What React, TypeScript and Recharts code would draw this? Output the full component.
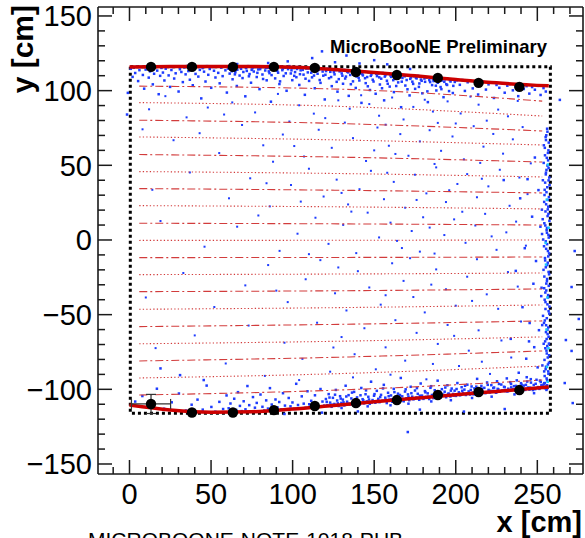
import React from "react";
import { ComposedChart, XAxis, YAxis, Line, Scatter, ErrorBar, ReferenceArea } from "recharts";

const X_DOMAIN: [number, number] = [-19.3, 278];
const Y_DOMAIN: [number, number] = [-156.7, 156];

const xLabelTicks = [0, 50, 100, 150, 200, 250];
const xTicks = [-10, 0, 10, 20, 30, 40, 50, 60, 70, 80, 90, 100, 110, 120, 130, 140, 150, 160, 170, 180, 190, 200, 210, 220, 230, 240, 250, 260, 270];
const yLabelTicks = [-150, -100, -50, 0, 50, 100, 150];
const yTicks = [-150, -140, -130, -120, -110, -100, -90, -80, -70, -60, -50, -40, -30, -20, -10, 0, 10, 20, 30, 40, 50, 60, 70, 80, 90, 100, 110, 120, 130, 140, 150];

// fitted boundary curves
const fitX = [0, 25, 50, 75, 100, 125, 150, 175, 200, 225, 257];
const topFit = [115.9, 116.1, 116.2, 116.1, 115.6, 114.2, 112.2, 109.9, 107.5, 105.2, 103.2];
const bottomFit = [-110.5, -113.8, -115.3, -115.0, -113.2, -110.8, -108.4, -106.0, -103.6, -101.4, -98.5];

// measured edge points
const binX = [13.2, 38.3, 63.4, 88.5, 113.6, 138.8, 163.9, 189, 214, 239];
const topEdge = [115.9, 115.9, 115.9, 115.9, 115.2, 112.5, 110.5, 108.5, 105.2, 102.5];
const bottomEdge = [-109.8, -115.5, -115.5, -113.9, -111.2, -109.2, -107.2, -103.8, -101.8, -100.5];
const bottomErrX = [12, 0, 0, 0, 0, 0, 0, 0, 0, 0];
const bottomErrY = [6.4, 0, 0, 0, 0, 0, 0, 0, 0, 0];

// corrected y-lines (top to bottom)
const guideX = [6, 128, 253];
const guideLeft = [103, 92, 80.2, 69, 57.2, 45.8, 34.4, 23, 11.2, -0.3, -11.8, -23.2, -34.6, -46.4, -58, -69.5, -81, -92.4, -103.8];
const guideMid = [101, 89.5, 78, 67, 55.5, 44.5, 33.3, 22.2, 10.8, -0.2, -11.7, -22.8, -34, -45.3, -56.5, -67.8, -78.5, -89.5, -100.5];
const guideRight = [93, 83, 73, 63.6, 52.2, 42.2, 31.5, 20.8, 10, 0, -11.4, -22.1, -32.8, -43.5, -54.2, -64.9, -74.3, -84.4, -93.8];

// track end points
const topBand = [
  [0.8,114.6],[1.9,109.2],[2.7,115.3],[3.5,111.8],[4.6,116.2],[5.3,106.4],[6.1,113.7],[7.4,115.8],[8.2,110.5],[9.0,101.3],[9.9,114.1],[10.7,116.4],[11.8,108.7],[12.6,112.9],[13.5,115.6],[14.3,104.2],[15.1,111.3],[16.2,116.1],[17.0,113.4],[17.9,97.6],[18.8,109.9],[19.6,115.2],[20.5,112.1],[21.4,106.8],[22.2,114.7],[23.1,116.3],[24.0,110.2],[24.9,102.5],[25.7,113.8],[26.6,115.9],[27.4,108.1],[28.3,111.6],[29.2,116.0],[30.1,99.4],[30.9,114.3],[31.8,112.5],[32.7,105.7],[33.5,115.5],[34.4,110.9],[35.3,116.5],[36.1,113.1],[37.0,107.3],[37.9,114.9],[38.8,103.6],[39.6,115.7],[40.5,111.2],[41.4,116.2],[42.2,109.4],[43.1,113.9],[44.0,94.8],[44.8,115.1],[45.7,112.7],[46.6,106.1],[47.5,116.4],[48.3,110.6],[49.2,114.5],[50.1,101.9],[51.0,115.8],[51.8,113.3],[52.7,108.8],[53.6,116.1],[54.4,111.9],[55.3,104.9],[56.2,115.4],[57.1,109.7],[57.9,116.3],[58.8,113.6],[59.7,98.7],[60.5,114.8],[61.4,111.4],[62.3,116.0],[63.2,107.6],[64.0,115.3],[64.9,112.3],[65.8,103.1],[66.6,116.2],[67.5,110.1],[68.4,114.6],[69.3,108.4],[70.1,115.9],[71.0,96.2],[71.9,113.2],[72.7,116.4],[73.6,111.1],[74.5,105.3],[75.4,115.0],[76.2,112.8],[77.1,116.1],[78.0,109.1],[78.9,114.2],[79.7,101.0],[80.6,115.6],[81.5,110.8],[82.3,116.3],[83.2,113.5],[84.1,106.9],[85.0,115.2],[85.8,111.7],[86.7,92.6],[87.6,116.0],[88.4,114.0],[89.3,108.2],[90.2,115.7],[91.1,112.0],[91.9,104.4],[92.8,116.2],[93.7,113.7],[94.5,109.8],[95.4,115.4],[96.3,99.9],[97.2,114.4],[98.0,116.4],[98.9,111.5],[99.8,107.0],
  [100.6,115.1],[101.5,112.4],[102.3,109.0],[103.2,115.8],[104.1,103.8],[104.9,113.6],[105.8,115.3],[106.7,110.7],[107.5,97.2],[108.4,114.8],[109.3,112.2],[110.1,106.5],[111.0,115.4],[111.9,108.9],[112.7,114.1],[113.6,101.6],[114.5,115.0],[115.3,111.3],[116.2,113.9],[117.1,105.2],[117.9,114.6],[118.8,110.0],[119.7,94.1],[120.5,113.1],[121.4,114.7],[122.3,108.3],[123.1,112.6],[124.0,103.0],[124.9,114.2],[125.7,110.9],[126.6,113.8],[127.5,99.3],[128.3,107.7],[129.2,113.3],[130.1,111.5],[130.9,104.6],[131.8,113.9],[132.7,109.4],[133.5,112.7],[134.4,96.5],[135.3,110.5],[136.1,113.4],[137.0,106.2],[137.9,112.0],[138.7,101.8],[139.6,112.9],[140.5,108.6],[141.3,111.6],[142.2,91.8],[143.1,110.2],[143.9,112.8],[144.8,105.0],[145.7,109.1],[146.5,112.3],[147.4,100.4],[148.3,110.8],[149.1,107.3],[150.0,112.0],[150.9,97.9],[151.7,109.7],[152.6,111.4],[153.5,104.1],[154.3,108.0],[155.2,111.8],[156.1,93.5],[156.9,110.3],[157.8,106.6],[158.7,111.2],[159.5,102.7],[160.4,109.2],[161.3,110.9],[162.1,99.0],[163.0,107.9],[163.9,110.6],[164.7,105.5],[165.6,109.8],[166.5,88.9],[167.3,108.5],[168.2,110.4],[169.1,103.4],[169.9,107.1],[170.8,110.1],[171.7,96.8],[172.5,108.8],[173.4,106.0],[174.3,109.6],[175.1,101.2],[176.0,108.2],[176.9,109.9],[177.7,104.8],[178.6,107.4],[179.5,98.2],[180.3,109.3],[181.2,105.9],[182.1,108.7],[182.9,92.3],[183.8,107.0],[184.7,108.9],[185.5,103.7],[186.4,106.4],[187.3,108.4],[188.1,100.1],[189.0,105.3],[189.9,108.0],[190.7,102.4],[191.6,106.8],[192.5,95.6],[193.3,107.6],[194.2,104.3],[195.1,107.9],[195.9,99.7],[196.8,106.1],[197.7,107.4],[198.5,103.2],[199.4,105.8],
  [200.8,106.9],[202.5,103.9],[204.1,107.1],[205.6,99.8],[207.3,105.6],[208.9,106.7],[210.4,101.5],[212.0,105.0],[213.7,97.4],[215.2,104.6],[216.8,106.0],[218.5,100.7],[220.1,104.2],[221.6,105.5],[223.4,95.1],[225.0,103.8],[226.7,101.9],[228.3,104.9],[230.0,98.6],[231.6,103.3],[233.2,104.4],[235.0,100.2],[236.6,102.8],[238.3,96.3],[240.0,103.6],[241.7,101.1],[243.4,103.0],[245.1,98.0],[246.8,102.4],[248.5,100.6],[250.3,103.2],[252.0,97.1],[253.8,101.7],[255.2,99.4],
  [85,118.5],[97,119.6],[112,121.8],[118,126.3],[126,119.0],[133,123.5],[141,118.2],[150,120.4],[158,117.6],[66,117.8],[40,117.2],[172,114.5],
  [60.9,115.5],[62.8,113.0],[64.6,110.9],[66.1,114.0],[67.9,116.0],[69.8,112.5],[71.5,115.1],[73.2,109.6],[74.9,113.9],[76.7,115.7],[78.4,111.9],[80.1,114.4],[81.9,107.8],[83.6,115.3],[85.4,112.9],[87.1,110.4],[88.8,115.8],[90.6,113.3],[92.3,106.2],[94.0,114.7],[95.8,111.6],[97.5,115.5],[99.3,113.6],[101.0,109.9],[102.7,114.5],[104.5,111.0],[106.2,113.9],[107.9,108.0],[109.7,114.9],[111.4,112.0],[113.1,110.1],[114.9,113.5],[116.6,107.1],[118.4,112.8],[120.1,110.6],[121.8,114.3],[123.6,109.1],[125.3,112.4],[127.0,105.9],[128.8,112.9],[130.5,110.0],[132.2,108.1],[134.0,112.2],[135.7,104.3],[137.4,111.3],[139.2,109.5],[140.9,106.8],[142.7,111.0],[144.4,108.3],[146.1,102.9],[147.9,109.9],[149.6,106.1],[151.3,111.3],[153.1,108.9],[154.8,101.6],[156.5,109.4],[158.3,104.6],[160.0,110.1],[161.7,107.0],[163.5,103.1],[165.2,108.7],[166.9,106.0],[168.7,109.6],[170.4,100.9],[172.1,107.9],[173.9,104.5],[175.6,108.6],[177.4,102.5],[179.1,106.6],[180.8,108.1],[182.6,99.5],[184.3,105.7],[186.0,107.6],[187.8,103.3],[189.5,106.9],[191.2,101.0],[193.0,105.9],[194.7,103.8],[196.4,107.0],[198.2,98.4],
];

const bottomBand = [
  [3.5,-108.2],[7.9,-104.5],[12.4,-111.9],[16.8,-99.6],[21.2,-113.0],[25.9,-108.7],[30.3,-102.8],[34.6,-114.2],[38.1,-110.3],[41.7,-106.9],[44.9,-113.6],[47.3,-97.5],[50.2,-111.8],[52.6,-115.0],[55.1,-108.4],[57.4,-113.2],[59.5,-104.1],[31.0,-90.5],[19.0,-86.0],[45.5,-93.8],
  [60.8,-112.7],[61.9,-109.5],[63.1,-115.2],[64.2,-106.3],[65.4,-113.8],[66.5,-101.9],[67.7,-111.1],[68.8,-114.6],[70.0,-108.0],[71.1,-113.4],[72.3,-97.8],[73.4,-110.6],[74.6,-114.9],[75.7,-105.2],[76.9,-112.3],[78.0,-109.1],[79.2,-115.0],[80.3,-103.5],[81.5,-111.7],[82.6,-114.2],[83.8,-107.4],[84.9,-112.9],[86.1,-99.2],[87.2,-110.2],[88.4,-114.0],[89.5,-106.8],[90.7,-112.1],[91.8,-108.5],[93.0,-113.5],[94.1,-102.6],[95.3,-110.9],[96.4,-113.7],[97.6,-105.8],[98.7,-111.4],[99.9,-108.8],[101.0,-113.1],[102.2,-96.3],[103.3,-110.5],[104.5,-112.8],[105.6,-104.7],[106.8,-109.6],[107.9,-112.4],[109.1,-101.3],[110.2,-110.0],[111.4,-107.7],[112.5,-112.0],[113.7,-104.0],[114.8,-109.3],[116.0,-111.6],[117.1,-99.8],[118.3,-108.2],[119.4,-110.9],
  [120.4,-106.5],[121.3,-110.6],[122.1,-103.2],[123.0,-108.9],[123.9,-111.7],[124.7,-105.7],[125.6,-109.8],[126.5,-100.4],[127.3,-107.5],[128.2,-111.2],[129.1,-104.6],[129.9,-109.1],[130.8,-106.9],[131.7,-110.8],[132.5,-97.6],[133.4,-108.3],[134.3,-103.9],[135.1,-110.2],[136.0,-106.1],[136.9,-108.8],[137.7,-101.7],[138.6,-109.9],[139.5,-105.4],[140.3,-107.9],[141.2,-110.1],[142.1,-99.1],[142.9,-106.6],[143.8,-109.4],[144.7,-103.3],[145.5,-108.1],[146.4,-105.0],[147.3,-109.7],[148.1,-94.9],[149.0,-107.2],[149.9,-104.3],[150.7,-109.0],[151.6,-101.0],[152.5,-106.4],[153.3,-108.6],[154.2,-103.7],[155.1,-107.6],[155.9,-97.0],[156.8,-105.6],[157.7,-109.2],[158.5,-102.3],[159.4,-106.9],[160.3,-104.1],[161.1,-108.3],[162.0,-99.7],[162.9,-105.2],[163.7,-107.8],[164.6,-102.9],[165.5,-106.3],[166.3,-92.4],[167.2,-104.7],[168.1,-108.0],[168.9,-101.5],[169.8,-106.0],[170.7,-103.4],[171.5,-107.3],[172.4,-98.3],[173.3,-104.9],[174.1,-106.7],[175.0,-100.8],[175.9,-105.5],[176.7,-103.0],[177.6,-107.0],[178.5,-96.1],[179.3,-104.2],[180.2,-106.4],[181.1,-101.2],[181.9,-105.1],[182.8,-102.7],[183.7,-106.5],[184.5,-99.0],[185.4,-103.8],[186.3,-105.9],[187.1,-100.6],[188.0,-104.5],[188.9,-94.2],[189.7,-102.4],[190.6,-105.6],[191.5,-99.9],[192.3,-103.5],[193.2,-101.6],[194.1,-105.3],[194.9,-97.3],[195.8,-102.9],[196.7,-104.8],[197.5,-99.5],[198.4,-103.1],[199.3,-100.9],[200.1,-104.4],[201.0,-95.8],[201.9,-102.0],[202.7,-104.0],[203.6,-98.6],[204.5,-102.6],[205.3,-100.2],[206.2,-103.8],[207.1,-96.9],[207.9,-101.4],[208.8,-103.5],[209.7,-98.1],[210.5,-102.2],[211.4,-99.4],[212.3,-103.2],[213.1,-93.0],[214.0,-100.8],[214.9,-102.9],[215.7,-97.7],[216.6,-101.8],[217.5,-99.0],[218.3,-102.5],[219.2,-95.4],[220.1,-100.4],[220.9,-102.1],[221.8,-97.2],[222.7,-101.3],[223.5,-98.8],[224.4,-101.9],[225.3,-94.6],[226.1,-100.0],[227.0,-101.6],[227.9,-96.8],[228.7,-100.7],[229.6,-98.3],[230.5,-101.2],[231.3,-92.7],[232.2,-99.6],[233.1,-101.0],[233.9,-96.4],[234.8,-100.3],[235.7,-97.9],[236.5,-100.9],[237.4,-94.0],[238.3,-99.2],[239.1,-100.6],[240.0,-95.9],[240.9,-99.8],[241.7,-97.5],[242.6,-100.4],[243.5,-91.9],[244.3,-98.8],[245.2,-100.2],[246.1,-95.5],[246.9,-99.4],[247.8,-97.1],[248.7,-99.9],[249.5,-93.6],[250.4,-98.5],[251.3,-99.7],[252.1,-95.1],[253.0,-98.9],[253.9,-96.7],[254.7,-99.3],[255.6,-97.8],
  [130,-112.5],[146,-111.4],[160,-110.7],[171,-109.6],[185,-108.1],[197,-107.3],[210,-105.8],[222,-104.9],[236,-103.4],[248,-102.6],[140,-114.8],[178,-113.6],[205,-114.9],[230,-113.2],[118,-115.6],[95,-116.5],[170.6,-128.6],
  [120.9,-108.4],[122.6,-105.5],[124.3,-110.3],[126.0,-103.6],[127.7,-109.4],[129.5,-106.2],[131.2,-108.7],[132.9,-104.8],[134.6,-109.6],[136.4,-102.2],[138.1,-107.6],[139.8,-109.1],[141.6,-104.0],[143.3,-107.3],[145.0,-100.7],[146.8,-106.8],[148.5,-108.8],[150.2,-103.2],[152.0,-107.9],[153.7,-105.2],[155.4,-99.4],[157.2,-107.1],[158.9,-104.6],[160.6,-106.7],[162.4,-101.9],[164.1,-106.0],[165.8,-103.8],[167.6,-107.4],[169.3,-100.0],[171.0,-105.0],[172.8,-102.6],[174.5,-106.3],[176.2,-99.2],[178.0,-104.3],[179.7,-105.9],[181.4,-102.0],[183.2,-104.9],[184.9,-97.9],[186.6,-103.6],[188.4,-105.3],[190.1,-101.5],[191.8,-104.1],[193.6,-98.8],[195.3,-103.0],[197.0,-100.9],[198.8,-104.2],[200.5,-99.8],[202.2,-103.1],[204.0,-101.0],[205.7,-97.6],[207.4,-102.7],[209.2,-100.4],[210.9,-103.4],[212.6,-98.2],[214.4,-101.9],[216.1,-99.6],[217.8,-102.4],[219.6,-97.0],[221.3,-101.0],[223.0,-99.2],[224.8,-102.3],[226.5,-96.4],[228.2,-100.9],[230.0,-98.6],[231.7,-101.5],[233.4,-95.2],[235.2,-99.9],[236.9,-97.7],[238.6,-100.8],[240.4,-96.9],[242.1,-99.6],[243.8,-94.8],[245.6,-98.9],[247.3,-100.5],[249.0,-96.3],[250.8,-99.1],[252.5,-97.3],[254.2,-95.9],[255.9,-99.6],[251.6,-94.2],[243.0,-97.0],[234.0,-98.7],[225.7,-99.7],[214.8,-100.5],
];

const rightEdge = [
  [256.2,72.5],[255.1,68.9],[257.0,65.2],[254.6,61.7],[256.5,58.3],[255.8,55.0],[253.9,51.6],[256.9,48.2],[255.3,45.1],[257.3,41.8],[254.8,38.4],[256.1,35.3],[255.6,32.0],[257.1,28.7],[254.2,25.5],[256.7,22.3],[255.0,19.1],[256.3,16.0],[257.4,12.8],[254.9,9.7],[255.7,6.5],[256.8,3.4],[253.6,0.3],[256.0,-2.8],[255.4,-5.9],[257.2,-9.0],[254.7,-12.1],[256.4,-15.2],[255.2,-18.3],[256.9,-21.4],[254.3,-24.5],[255.9,-27.6],[257.0,-30.7],[255.5,-33.8],[256.6,-36.9],[254.5,-40.0],[256.2,-43.1],[255.0,-46.2],[257.3,-49.3],[255.8,-52.4],[254.1,-55.5],[256.7,-58.6],[255.3,-61.7],[256.9,-64.8],[254.8,-67.9],[256.1,-71.0],[255.6,-74.1],[257.2,-77.2],[254.4,-80.3],[256.5,-83.4],[255.1,-86.5],[256.8,-89.6],[255.7,-92.7],[254.6,-95.8],[256.3,-98.9],
  [255.5,70.1],[254.0,63.4],[256.6,53.3],[255.2,43.9],[257.5,36.7],[254.4,30.1],[256.4,20.5],[253.3,13.9],[255.9,4.8],[254.1,-4.2],[256.7,-11.0],[253.8,-20.0],[256.0,-26.1],[254.9,-35.2],[257.4,-44.6],[253.5,-50.8],[255.4,-57.1],[256.3,-63.0],[253.9,-69.5],[255.8,-76.0],[257.1,-82.2],[254.2,-88.0],[256.0,-93.9],[253.2,-97.5],
  [256.0,74.5],[255.3,66.9],[256.8,60.0],[254.7,56.7],[256.2,49.8],[255.6,46.9],[256.9,39.9],[254.5,33.6],[256.3,26.8],[255.4,23.9],[256.8,17.5],[254.3,11.2],[255.9,8.0],[257.0,1.6],[255.2,-0.9],[256.5,-7.4],[254.8,-13.7],[256.1,-16.8],[257.2,-23.0],[255.5,-29.2],[254.2,-32.3],[256.6,-38.5],[255.0,-41.6],[256.9,-47.7],[254.6,-53.9],[256.2,-60.1],[255.7,-66.3],[257.1,-69.4],[254.9,-72.5],[256.4,-78.7],[255.3,-84.9],[256.7,-88.0],[254.5,-91.1],[256.0,-97.3],[255.6,-100.4],[253.0,-57.0],[252.6,-32.0],[253.1,-84.0],[252.9,4.0],[253.4,40.0],
  [248.5,55.2],[244.0,40.7],[250.7,33.4],[239.5,27.9],[246.8,15.6],[251.9,8.9],[242.3,-5.5],[249.2,-14.1],[236.8,-20.7],[247.6,-29.3],[252.4,-37.6],[240.9,-45.0],[245.3,-55.6],[251.0,-60.4],[233.7,-66.2],[248.1,-71.8],[243.2,-79.5],[250.2,-85.3],[238.6,-88.9],[246.0,-93.2],[229.4,40.1],[252.8,20.3],[244.9,-67.9],
  [272.9,-7.4],[271.0,-31.5],[275.4,-52.9],[267.5,-67.0],[271.0,-74.3],[266.8,-95.8],[271.7,-109.2],[263.8,93.8],[-1.5,84.0],[-1.0,98.5],
];

const rightEdgeCyan = [
  [256.5,50.5],[255.8,27.0],[256.9,8.2],[255.3,-16.5],[256.2,-38.5],[255.6,-60.0],[256.8,-72.5],[255.9,-85.0],[256.3,-95.0],[255.1,-2.0],
];

const interior = [
  [22,96.3],[48,88.7],[63,92.1],[77,85.4],[91,97.8],[104,90.2],[113,84.6],[128,93.5],[135,87.9],[147,91.0],[153,83.2],[161,95.4],[174,89.1],[186,86.0],[195,92.8],[203,84.7],[214,90.6],[226,87.3],[238,93.1],[12,87.5],[35,82.1],[58,84.0],[120,81.6],[142,96.9],[168,80.7],[181,93.9],[209,96.0],[232,82.8],[98,79.3],[157,77.2],[189,78.4],[219,79.9],
  [8,74.1],[27,66.8],[43,71.5],[55,58.2],[69,77.0],[82,63.4],[94,70.6],[107,55.9],[116,73.8],[124,61.7],[137,68.2],[145,52.9],[152,75.3],[159,63.1],[166,70.9],[171,56.4],[178,66.0],[184,73.5],[191,59.7],[198,69.3],[205,54.0],[211,76.2],[217,62.5],[223,71.0],[229,57.8],[235,67.4],[241,75.6],[246,51.3],[132,78.6],[101,62.9],[163,57.6],[187,50.9],[200,78.0],[215,51.6],[88,52.4],[150,60.0],
  [14,33.6],[37,45.2],[61,27.9],[74,41.3],[86,22.5],[99,36.8],[110,47.7],[119,29.1],[127,40.4],[134,23.8],[141,34.0],[148,46.3],[156,27.3],[162,38.9],[169,21.6],[175,43.7],[182,31.2],[188,48.6],[194,25.4],[201,37.5],[207,44.1],[213,28.6],[220,35.9],[227,47.0],[233,22.9],[239,41.8],[244,30.7],[158,45.0],[176,26.8],[196,33.3],[216,41.0],[130,31.5],[105,25.7],[84,38.0],
  [19,12.7],[46,-4.5],[66,8.9],[79,16.4],[92,-7.3],[103,4.2],[114,14.9],[122,-2.6],[131,10.1],[139,-8.8],[146,18.3],[153,1.7],[160,11.6],[167,-5.4],[173,6.0],[180,15.2],[187,-9.1],[193,3.3],[199,13.8],[206,-1.9],[212,9.7],[218,17.5],[225,-6.6],[231,5.1],[237,12.3],[243,-3.8],[136,19.0],[164,-0.6],[184,8.3],[204,18.9],[222,2.4],[178,-7.8],[110,-9.5],
  [10,-38.5],[33,-22.1],[52,-44.9],[71,-30.4],[85,-16.8],[97,-41.6],[108,-26.3],[117,-13.5],[126,-35.7],[133,-47.2],[140,-20.9],[147,-31.8],[154,-43.3],[161,-15.6],[168,-27.4],[174,-38.2],[181,-48.5],[188,-19.7],[194,-33.0],[200,-44.0],[207,-24.6],[213,-12.9],[219,-36.4],[226,-46.1],[232,-21.5],[238,-31.2],[157,-37.0],[185,-29.9],[210,-40.8],[128,-18.4],[172,-12.2],[90,-33.9],
  [16,-72.4],[40,-63.9],[59,-82.7],[73,-57.3],[83,-91.0],[95,-68.8],[106,-79.6],[115,-55.4],[123,-88.2],[130,-65.0],[138,-76.5],[144,-59.1],[151,-86.6],[157,-71.9],[163,-53.7],[169,-80.8],[176,-62.2],[182,-93.3],[189,-69.6],[195,-56.9],[202,-84.4],[208,-74.1],[214,-60.5],[221,-89.7],[228,-67.3],[234,-78.7],[240,-54.6],[137,-92.0],[160,-90.2],[186,-83.0],[199,-64.2],[216,-81.5],[104,-93.8],[125,-72.0],[148,-95.0],
];

const FONT = "'Liberation Sans', Arial, Helvetica, sans-serif";
const AXIS = "#1a1a1a";
const BLUE = "#1e3cff";
const FIT_RED = "#cc0000";
const GUIDE_RED = "#d23c3c";

const toPts = (arr: number[][]) => arr.map(([x, y]) => ({ x, y }));
const fmt = (v: number) => (v < 0 ? "\u2212" + Math.abs(v) : String(v));

const dotShape = (color: string, s: number) => (p: any) => (
  <rect x={p.cx - s / 2} y={p.cy - s / 2} width={s} height={s} fill={color} />
);
const markerShape = (p: any) => <circle cx={p.cx} cy={p.cy} r={5.2} fill="#000" />;

// tick marks drawn inward from the frame (ROOT style)
const tickShape = (p: any) => {
  const { side, major } = p.payload;
  const len = major ? 14 : 7;
  const { cx, cy } = p;
  let d = "";
  if (side === "b") d = `M${cx},${cy}V${cy - len}`;
  else if (side === "t") d = `M${cx},${cy}V${cy + len}`;
  else if (side === "l") d = `M${cx},${cy}H${cx + len}`;
  else d = `M${cx},${cy}H${cx - len}`;
  return <path d={d} stroke={AXIS} strokeWidth={1.5} fill="none" />;
};

const XLabel = (p: any) =>
  xLabelTicks.includes(p.payload.value) ? (
    <text x={p.x} y={p.y + 9} dy="0.71em" textAnchor="middle" fontFamily={FONT} fontSize={29} fill="#000">{fmt(p.payload.value)}</text>
  ) : <g />;
const YLabel = (p: any) =>
  yLabelTicks.includes(p.payload.value) ? (
    <text x={p.x - 6} y={p.y} dy="0.36em" textAnchor="end" fontFamily={FONT} fontSize={29} fill="#000">{fmt(p.payload.value)}</text>
  ) : <g />;

export default function App() {
  const topFitData = fitX.map((x, i) => ({ x, y: topFit[i] }));
  const bottomFitData = fitX.map((x, i) => ({ x, y: bottomFit[i] }));
  const topPts = binX.map((x, i) => ({ x, y: topEdge[i] }));
  const bottomPts = binX.map((x, i) => ({ x, y: bottomEdge[i], ex: bottomErrX[i], ey: bottomErrY[i] }));
  const guides = guideLeft.map((l, i) => [
    { x: guideX[0], y: l },
    { x: guideX[1], y: guideMid[i] },
    { x: guideX[2], y: guideRight[i] },
  ]);
  const tickMarks = [
    ...xTicks.map((x) => ({ x, y: Y_DOMAIN[0], side: "b", major: xLabelTicks.includes(x) })),
    ...xTicks.map((x) => ({ x, y: Y_DOMAIN[1], side: "t", major: xLabelTicks.includes(x) })),
    ...yTicks.map((y) => ({ x: X_DOMAIN[0], y, side: "l", major: yLabelTicks.includes(y) })),
    ...yTicks.map((y) => ({ x: X_DOMAIN[1], y, side: "r", major: yLabelTicks.includes(y) })),
  ];

  const common = {
    type: "number" as const, allowDataOverflow: true, interval: 0 as const,
    tickSize: 0, tickMargin: 0, tickLine: false,
    axisLine: { stroke: AXIS, strokeWidth: 1.6 },
  };

  return (
    <div style={{ position: "absolute", left: 0, top: 0, width: 585, height: 538, background: "#fff", overflow: "hidden" }}>
      <ComposedChart width={585} height={538} margin={{ top: 6, right: 1, bottom: 63, left: 97 }}>
        <XAxis xAxisId="x" dataKey="x" orientation="bottom" height={1} domain={X_DOMAIN} ticks={xTicks}
          tick={XLabel} {...common} />
        <XAxis xAxisId="xt" orientation="top" height={1} domain={X_DOMAIN} ticks={xTicks} tick={false} {...common} />
        <YAxis yAxisId="y" dataKey="y" orientation="left" width={1} domain={Y_DOMAIN} ticks={yTicks}
          tick={YLabel} {...common} />
        <YAxis yAxisId="yr" orientation="right" width={1} domain={Y_DOMAIN} ticks={yTicks} tick={false} {...common} />

        <Scatter xAxisId="x" yAxisId="y" data={toPts(interior)} shape={dotShape(BLUE, 2)} isAnimationActive={false} zIndex={300} />
        <Scatter xAxisId="x" yAxisId="y" data={toPts(topBand)} shape={dotShape(BLUE, 2.5)} isAnimationActive={false} zIndex={300} />
        <Scatter xAxisId="x" yAxisId="y" data={toPts(bottomBand)} shape={dotShape(BLUE, 2.5)} isAnimationActive={false} zIndex={300} />
        <Scatter xAxisId="x" yAxisId="y" data={toPts(rightEdge)} shape={dotShape(BLUE, 2.5)} isAnimationActive={false} zIndex={300} />
        <Scatter xAxisId="x" yAxisId="y" data={toPts(rightEdgeCyan)} shape={dotShape("#18c8ff", 2.5)} isAnimationActive={false} zIndex={300} />

        {guides.map((g, i) => (
          <Line key={i} xAxisId="x" yAxisId="y" data={g} dataKey="y" type="monotone" stroke={GUIDE_RED}
            strokeWidth={1.1} strokeDasharray={(9 - i) % 2 !== 0 ? "8 3 2 3" : "1.3 2.2"}
            dot={false} activeDot={false} isAnimationActive={false} />
        ))}

        <ReferenceArea xAxisId="x" yAxisId="y" x1={0.5} x2={258} y1={-116} y2={116} fill="none" fillOpacity={0}
          stroke="#000" strokeWidth={3} strokeDasharray="3 3" ifOverflow="visible" />

        <Line xAxisId="x" yAxisId="y" data={topFitData} dataKey="y" type="monotone" stroke={FIT_RED} strokeWidth={3.5}
          dot={false} activeDot={false} isAnimationActive={false} />
        <Line xAxisId="x" yAxisId="y" data={bottomFitData} dataKey="y" type="monotone" stroke={FIT_RED} strokeWidth={3.5}
          dot={false} activeDot={false} isAnimationActive={false} />

        <Scatter xAxisId="x" yAxisId="y" data={topPts} shape={markerShape} isAnimationActive={false} />
        <Scatter xAxisId="x" yAxisId="y" data={bottomPts} shape={markerShape} isAnimationActive={false}>
          <ErrorBar dataKey="ex" direction="x" width={5} stroke="#333" strokeWidth={1.2} />
          <ErrorBar dataKey="ey" direction="y" width={5} stroke="#333" strokeWidth={1.2} />
        </Scatter>

        <Scatter xAxisId="x" yAxisId="y" data={tickMarks} shape={tickShape} isAnimationActive={false} />
      </ComposedChart>

      <svg width={585} height={538} style={{ position: "absolute", left: 0, top: 0, pointerEvents: "none" }}>
        <text x={547} y={53} textAnchor="end" fontFamily={FONT} fontWeight="bold" fontSize={18.5} fill="#000">
          MicroBooNE Preliminary
        </text>
        <text x={582} y={532} textAnchor="end" fontFamily={FONT} fontWeight="bold" fontSize={29} fill="#000">
          x [cm]
        </text>
        <text transform="rotate(-90)" x={-5} y={33} textAnchor="end" fontFamily={FONT} fontWeight="bold" fontSize={30} fill="#000">
          y [cm]
        </text>
        <text x={88} y={547} fontFamily={FONT} fontSize={21} fill="#000">
          MICROBOONE-NOTE-1018-PUB
        </text>
      </svg>
    </div>
  );
}
